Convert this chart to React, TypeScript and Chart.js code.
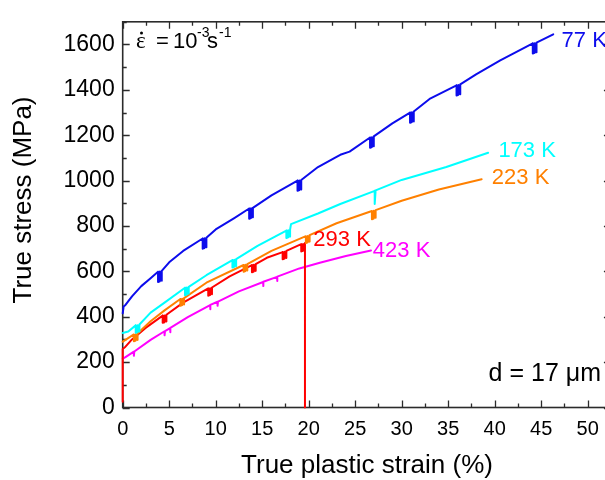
import React, { useEffect, useRef } from 'react';
import { Chart, registerables } from 'chart.js';

Chart.register(...registerables);

const SANS = '"Liberation Sans", Arial, Helvetica, sans-serif';
const SERIF = '"Liberation Serif", "Times New Roman", serif';

// Axis ranges and ticks
const X_MIN = 0;
const X_MAX = 52.5;
const X_MAJOR = 5;
const X_MINOR = 2.5;
const Y_MIN = 0;
const Y_MAX = 1700;
const Y_MAJOR = 200;
const Y_MINOR = 100;
const xTickValues = [0, 5, 10, 15, 20, 25, 30, 35, 40, 45, 50];
const yTickValues = [0, 200, 400, 600, 800, 1000, 1200, 1400, 1600];

const xTitle = 'True plastic strain (%)';
const yTitle = 'True stress (MPa)';

const temperatures = ['77 K', '173 K', '223 K', '293 K', '423 K'];

// 77 K
const strain77 = [0, 0.1, 0.3, 1, 2, 3,
  3.8, 3.8, 4.0, 4.0, 4.2, 4.2, 5, 6.5,
  8.6, 8.6, 8.8, 8.8, 9.0, 9.0, 10, 12,
  13.6, 13.6, 13.8, 13.8, 14.0, 14.0, 16,
  18.8, 18.8, 19.0, 19.0, 19.2, 19.2, 21, 23, 23.4, 24.4,
  26.6, 26.6, 26.8, 26.8, 27.0, 27.0, 29,
  30.9, 30.9, 31.1, 31.1, 31.3, 31.3, 33,
  35.9, 35.9, 36.1, 36.1, 36.3, 36.3, 38, 40.6,
  44.1, 44.1, 44.3, 44.3, 44.5, 44.5, 46.3];
const stress77 = [415, 445, 452, 490, 535, 570,
  598, 553, 556, 599, 559, 602, 640, 690,
  745, 700, 703, 746, 706, 748, 785, 835,
  877, 832, 835, 878, 838, 880, 935,
  1000, 955, 958, 1001, 961, 1003, 1060, 1105, 1114, 1128,
  1190, 1145, 1148, 1191, 1151, 1195, 1252,
  1300, 1255, 1258, 1301, 1261, 1305, 1360,
  1420, 1375, 1378, 1421, 1381, 1424, 1468, 1530,
  1605, 1560, 1563, 1606, 1566, 1608, 1645];

// 173 K
const strain173 = [0, 0.6, 1.4, 1.4, 1.6, 1.6, 1.8, 1.8, 3, 4.5,
  6.7, 6.7, 6.9, 6.9, 7.1, 7.1, 9,
  11.8, 11.8, 12.0, 12.0, 12.2, 12.2, 14.5,
  17.6, 17.6, 17.8, 17.8, 18.0, 18.0, 18.1, 21, 23.4,
  27.1, 27.1, 27.2, 30, 34.8, 39.3];
const stress173 = [328, 335, 362, 329, 332, 363, 335, 366, 418, 462,
  528, 495, 498, 529, 501, 532, 583,
  650, 617, 620, 651, 623, 654, 712,
  780, 747, 750, 781, 753, 784, 808, 855, 897,
  955, 897, 957, 1003, 1060, 1123];

// 223 K
const strain223 = [0, 0.3, 1.2, 1.2, 1.4, 1.4, 1.6, 1.6, 3, 4.5,
  6.2, 6.2, 6.4, 6.4, 6.6, 6.6, 9,
  13.0, 13.0, 13.2, 13.2, 13.4, 13.4, 16,
  19.7, 19.7, 19.9, 19.9, 20.1, 20.1, 23,
  26.8, 26.8, 27.0, 27.0, 27.2, 27.2, 30, 34, 38.6];
const stress223 = [290, 298, 322, 292, 295, 323, 298, 326, 380, 428,
  478, 448, 451, 479, 454, 482, 550,
  628, 598, 601, 629, 604, 632, 690,
  755, 725, 728, 756, 731, 760, 812,
  866, 830, 833, 867, 836, 870, 911, 961, 1006];

// 293 K
const strain293 = [0, 0, 0.3, 1, 2.5,
  4.3, 4.3, 4.5, 4.5, 4.7, 4.7, 6.5,
  9.2, 9.2, 9.4, 9.4, 9.6, 9.6, 11.5,
  13.9, 13.9, 14.1, 14.1, 14.3, 14.3, 15.5,
  17.2, 17.2, 17.4, 17.4, 17.6, 17.6,
  19.2, 19.2, 19.4, 19.4, 19.6, 19.6, 19.6];
const stress293 = [25, 258, 268, 300, 352,
  405, 373, 376, 406, 379, 409, 462,
  525, 493, 496, 526, 499, 529, 578,
  628, 596, 599, 629, 602, 632, 660,
  685, 653, 656, 686, 659, 690,
  720, 688, 691, 721, 694, 725, 0];

// 423 K
const strain423 = [0, 0.3, 1.2, 1.2, 1.25, 3,
  4.5, 4.5, 4.55, 5.1, 5.1, 5.15, 7,
  9.4, 9.4, 9.45, 10.2, 10.2, 10.25, 12.5,
  15.1, 15.1, 15.15, 16.6, 16.6, 16.65, 19, 21.2, 24, 26.7];
const stress423 = [215, 222, 246, 228, 247, 298,
  336, 318, 337, 350, 332, 351, 398,
  451, 433, 452, 466, 448, 467, 512,
  553, 535, 554, 576, 558, 577, 613, 638, 668, 692];

const strainSeries = [strain77, strain173, strain223, strain293, strain423];
const stressSeries = [stress77, stress173, stress223, stress293, stress423];
const colors = ['#0c0cec', '#00ffff', '#ff8000', '#ff0000', '#ff00ff'];

// Label anchors (data coordinates, left edge / vertical middle)
const labelStrain = [47.2, 40.4, 39.7, 20.5, 26.9];
const labelStress = [1615, 1131, 1013, 739, 689];

const CANVAS_W = 625;
const CANVAS_H = 480;

const framePlugin = {
  id: 'frameAndNotes',
  beforeDatasetsDraw(chart: any) {
    const { ctx, chartArea: a, scales } = chart;
    const xs = scales.x;
    const ys = scales.y;
    ctx.save();
    ctx.strokeStyle = '#2b2b2b';
    ctx.lineWidth = 1.6;
    ctx.strokeRect(a.left, a.top, a.right - a.left, a.bottom - a.top);
    ctx.lineWidth = 1.3;
    ctx.beginPath();
    for (let i = 0; X_MIN + i * X_MINOR <= X_MAX + 1e-9; i++) {
      const v = X_MIN + i * X_MINOR;
      const major = Math.abs(v / X_MAJOR - Math.round(v / X_MAJOR)) < 1e-6;
      const len = major ? 7 : 4;
      const px = Math.round(xs.getPixelForValue(v)) + 0.5;
      ctx.moveTo(px, a.bottom);
      ctx.lineTo(px, a.bottom - len);
      ctx.moveTo(px, a.top);
      ctx.lineTo(px, a.top + len);
    }
    for (let i = 0; Y_MIN + i * Y_MINOR <= Y_MAX + 1e-9; i++) {
      const v = Y_MIN + i * Y_MINOR;
      const major = Math.abs(v / Y_MAJOR - Math.round(v / Y_MAJOR)) < 1e-6;
      const len = major ? 7 : 4;
      const py = Math.round(ys.getPixelForValue(v)) + 0.5;
      ctx.moveTo(a.left, py);
      ctx.lineTo(a.left + len, py);
      ctx.moveTo(a.right, py);
      ctx.lineTo(a.right - len, py);
    }
    ctx.stroke();
    ctx.restore();
  },
  afterDraw(chart: any) {
    const { ctx, scales } = chart;
    const xs = scales.x;
    const ys = scales.y;
    ctx.save();
    // axis titles
    ctx.fillStyle = '#000';
    ctx.font = '26px ' + SANS;
    ctx.textAlign = 'center';
    ctx.textBaseline = 'alphabetic';
    ctx.fillText(xTitle, 367, 473);
    ctx.save();
    ctx.translate(31, 200);
    ctx.rotate(-Math.PI / 2);
    ctx.fillText(yTitle, 0, 0);
    ctx.restore();

    // series labels
    ctx.textBaseline = 'middle';
    ctx.textAlign = 'left';
    ctx.font = '22px ' + SANS;
    temperatures.forEach((t, i) => {
      ctx.fillStyle = colors[i];
      ctx.fillText(t, xs.getPixelForValue(labelStrain[i]), ys.getPixelForValue(labelStress[i]));
    });

    // strain rate note
    ctx.fillStyle = '#000';
    ctx.textBaseline = 'alphabetic';
    ctx.font = '23px ' + SERIF;
    ctx.fillText('\u03B5', 136, 48);
    ctx.beginPath();
    ctx.arc(141.5, 33, 1.5, 0, Math.PI * 2);
    ctx.fill();
    ctx.font = '22px ' + SANS;
    ctx.fillText('=', 156, 48);
    ctx.fillText('10', 173, 48);
    ctx.font = '14px ' + SANS;
    ctx.fillText('-3', 197, 37);
    ctx.font = '22px ' + SANS;
    ctx.fillText('s', 207, 48);
    ctx.font = '14px ' + SANS;
    ctx.fillText('-1', 219, 37);

    // grain size note
    ctx.font = '25px ' + SANS;
    ctx.textAlign = 'right';
    ctx.fillText('d = 17 \u03BCm', 601, 381);
    ctx.restore();
  },
};

export default function App() {
  const canvasRef = useRef<HTMLCanvasElement | null>(null);

  useEffect(() => {
    const canvas = canvasRef.current;
    if (!canvas) return;
    const datasets = strainSeries.map((xsArr, i) => ({
      label: temperatures[i],
      data: xsArr.map((x, j) => ({ x, y: stressSeries[i][j] })),
      borderColor: colors[i],
      backgroundColor: colors[i],
      borderWidth: 2,
      borderJoinStyle: 'round',
      borderCapStyle: 'round',
      pointRadius: 0,
      showLine: true,
      tension: 0,
      fill: false,
      clip: false,
    }));

    const chart = new Chart(canvas, {
      type: 'scatter',
      data: { datasets },
      plugins: [framePlugin],
      options: {
        responsive: false,
        animation: false,
        devicePixelRatio: 1,
        layout: { padding: { left: 0, top: 15, right: CANVAS_W - 610.9, bottom: 0 } },
        plugins: {
          legend: { display: false },
          tooltip: { enabled: false },
        },
        scales: {
          x: {
            type: 'linear',
            min: X_MIN,
            max: X_MAX,
            grid: { display: false, drawTicks: false },
            border: { display: false },
            afterBuildTicks: (s: any) => {
              s.ticks = xTickValues.map((v) => ({ value: v }));
            },
            afterFit: (s: any) => {
              s.height = 72.5;
            },
            ticks: {
              padding: 10,
              color: '#000',
              font: { family: SANS, size: 20 },
              maxRotation: 0,
              autoSkip: false,
              callback: (v: any) => String(v),
            },
          },
          y: {
            type: 'linear',
            min: Y_MIN,
            max: Y_MAX,
            grid: { display: false, drawTicks: false },
            border: { display: false },
            afterBuildTicks: (s: any) => {
              s.ticks = yTickValues.map((v) => ({ value: v }));
            },
            afterFit: (s: any) => {
              s.width = 122.7;
            },
            ticks: {
              padding: 8,
              color: '#000',
              font: { family: SANS, size: 23 },
              autoSkip: false,
              callback: (v: any) => String(v),
            },
          },
        },
      },
    } as any);
    return () => chart.destroy();
  }, []);

  return (
    <div style={{ position: 'absolute', left: 0, top: 0, width: 605, height: 480, overflow: 'hidden', background: '#fff' }}>
      <canvas ref={canvasRef} width={CANVAS_W} height={CANVAS_H} style={{ display: 'block', width: CANVAS_W, height: CANVAS_H }} />
    </div>
  );
}
